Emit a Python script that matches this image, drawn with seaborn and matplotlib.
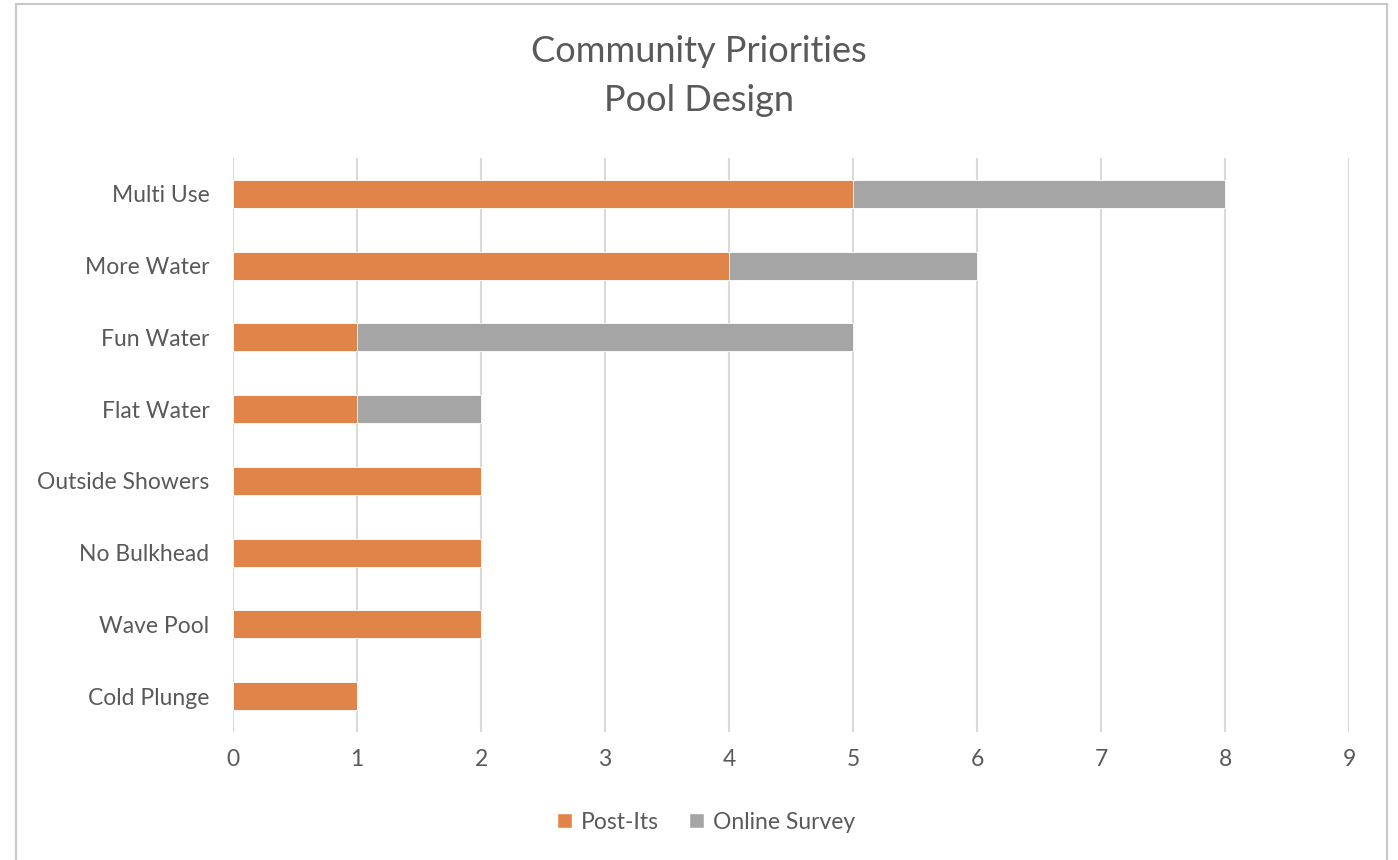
import pandas as pd
import seaborn as sns
import matplotlib.pyplot as plt
from matplotlib.lines import Line2D
from matplotlib.patches import Patch

# data
features = ['Multi Use', 'More Water', 'Fun Water', 'Flat Water',
            'Outside Showers', 'No Bulkhead', 'Wave Pool', 'Cold Plunge']
post_its = [5, 4, 1, 1, 2, 2, 2, 1]
online_survey = [3, 2, 4, 1, 0, 0, 0, 0]

df = pd.DataFrame({'feature': features, 'post_its': post_its, 'online': online_survey})
df['total'] = df['post_its'] + df['online']

orange = '#E0844A'
gray = '#A5A5A5'
text_col = '#595959'

sns.set_style('white')
plt.rcParams['font.family'] = ['Lato', 'DejaVu Sans']

fig = plt.figure(figsize=(13.98, 8.6), dpi=100)
ax = fig.add_axes([0.1667, 0.1488, 0.7983, 0.6675])

# stacked bars: total in gray, post-its on top in orange
sns.barplot(data=df, y='feature', x='total', color=gray, width=0.39,
            saturation=1, ax=ax, zorder=2, linewidth=0.6, edgecolor='white')
sns.barplot(data=df, y='feature', x='post_its', color=orange, width=0.39,
            saturation=1, ax=ax, zorder=3, linewidth=0.6, edgecolor='white')

ax.set_xlim(0, 9)
ax.set_ylim(7.5, -0.5)
ax.set_xticks(range(0, 10))
ax.xaxis.grid(True, color='#D9D9D9', linewidth=1.5, zorder=0)
ax.set_axisbelow(True)
for s in ax.spines.values():
    s.set_visible(False)
ax.set_xlabel('')
ax.set_ylabel('')
ax.tick_params(axis='x', length=0, pad=12, labelsize=16.5, labelcolor=text_col)
ax.tick_params(axis='y', length=0, pad=17, labelsize=16.5, labelcolor=text_col)

fig.text(0.5, 0.94, 'Community Priorities', ha='center', va='center',
         fontsize=26, color=text_col)
fig.text(0.5, 0.883, 'Pool Design', ha='center', va='center',
         fontsize=26, color=text_col)

handles = [Patch(facecolor=orange, label='Post-Its'),
           Patch(facecolor=gray, label='Online Survey')]
fig.legend(handles=handles, loc='center', bbox_to_anchor=(0.505, 0.044), ncol=2,
           frameon=False, fontsize=16.5, labelcolor=text_col,
           handlelength=0.65, handleheight=0.65, columnspacing=1.3, handletextpad=0.4)

# outer chart frame
fc = '#C8C8C8'
fig.add_artist(Line2D([16/1398, 16/1398], [0, 1 - 4/860], color=fc, lw=1.5))
fig.add_artist(Line2D([16/1398, 1387/1398], [1 - 4/860, 1 - 4/860], color=fc, lw=1.5))
fig.add_artist(Line2D([1387/1398, 1387/1398], [0, 1 - 4/860], color=fc, lw=1.5))

fig.savefig('out.png', dpi=100)
